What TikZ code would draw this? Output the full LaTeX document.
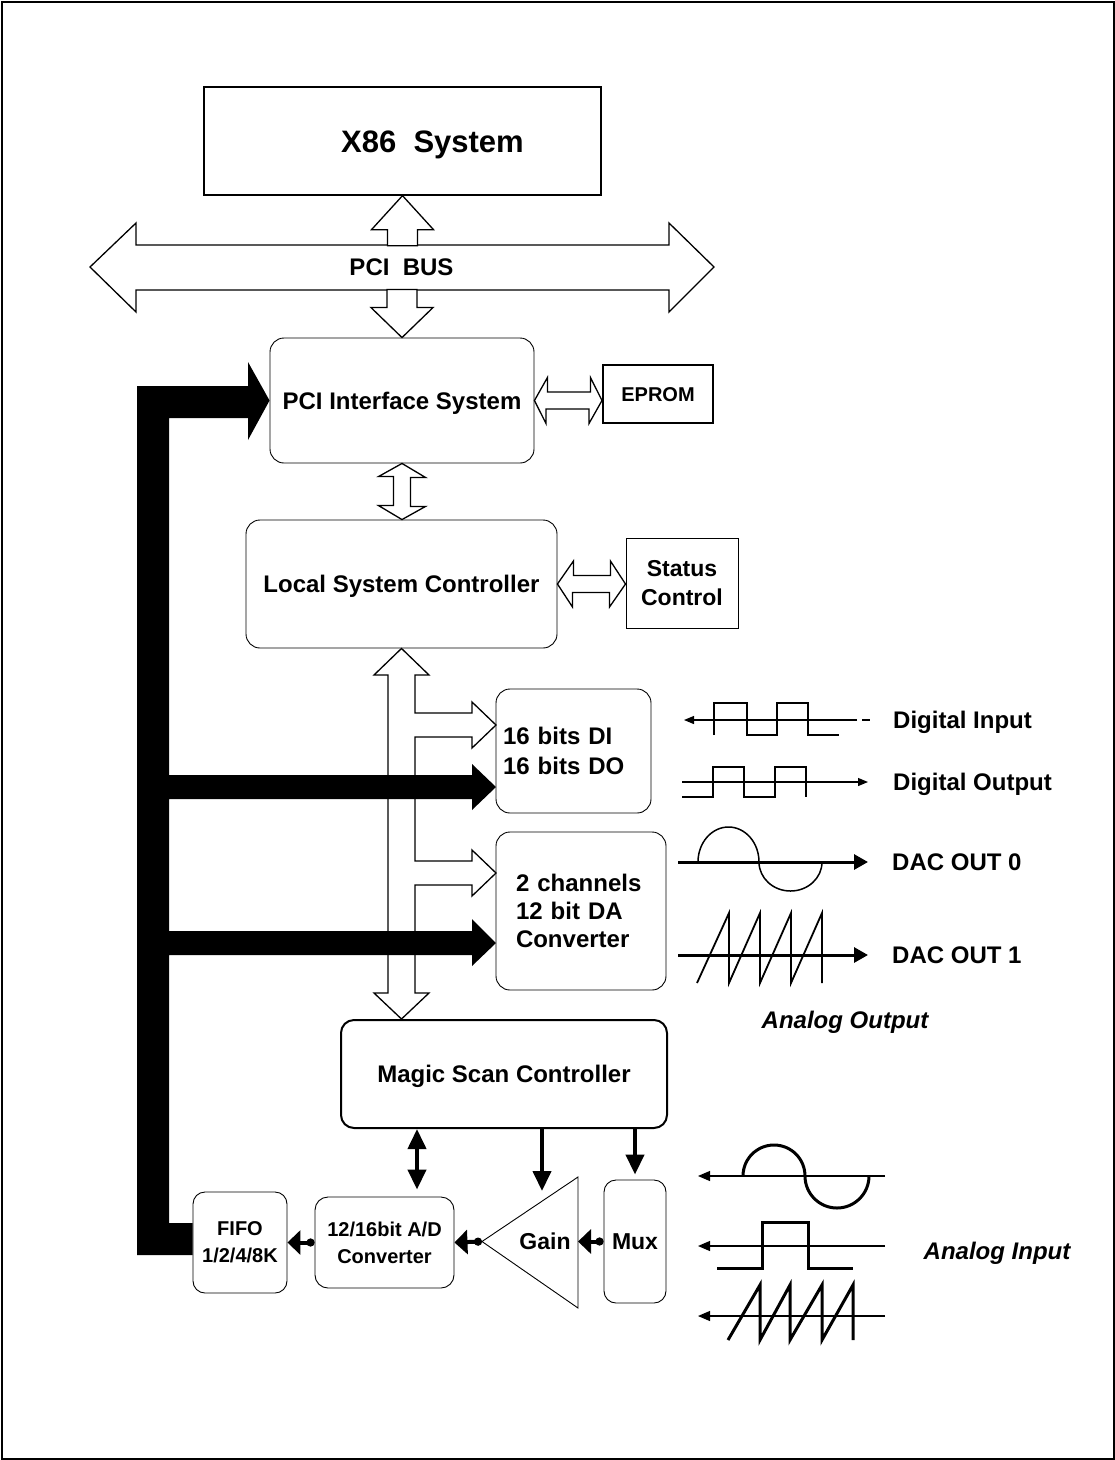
\documentclass[tikz,border=0pt]{standalone}
\usepackage{fontspec}
\setmainfont{Liberation Sans}
\usepackage{tikz}
\usetikzlibrary{positioning,arrows.meta}
\tikzset{
  >={Triangle[length=10pt,width=8pt]},
  sqbox/.style={draw, line width=1pt, inner sep=0pt},
  rndbox/.style={draw, line width=0.9pt, rounded corners=14pt, inner sep=0pt},
  oneline/.style={text height=#1, text depth=0pt},
  oneline/.default=17pt,
  lbl/.style={font=\bfseries\fontsize{24}{29}\selectfont},
  smalllbl/.style={font=\bfseries\fontsize{20}{27}\selectfont},
  itlbl/.style={font=\bfseries\itshape\fontsize{24}{29}\selectfont, oneline},
  outlbl/.style={lbl, oneline, anchor=west, inner sep=0pt},
  hollow/.style={draw, fill=white, line width=1.3pt},
  heavy/.style={fill=black},
  sig/.style={line width=4pt, {Circle[length=8pt]}-{Triangle[length=13pt,width=24pt]}},
  ctl/.style={line width=4pt, -{Triangle[length=20pt,width=18pt]}},
  axis/.style={line width=1.2pt},
  thickaxis/.style={line width=3pt, -{Triangle[length=14pt,width=15pt]}},
  wave/.style={line width=1.5pt},
  boldwave/.style={line width=3pt},
}

\begin{document}
\begin{tikzpicture}[x=1pt, y=-1pt]
  \useasboundingbox (0,0) rectangle (1115,1460);
  \draw[line width=2pt] (1.5,1.5) rectangle (1113.5,1458.5);

  \node[sqbox, line width=1.3pt, minimum width=397pt, minimum height=108pt,
    label={[name=x86txt, font=\bfseries\fontsize{31}{36}\selectfont, oneline=22pt, xshift=30pt]center:X86\ \ System}]
    (x86) at (402.5,141) {};
  \draw[hollow] (90,267) -- (136,223) -- (136,245) -- (669,245) -- (669,223) -- (714,267)
    -- (669,312) -- (669,290) -- (136,290) -- (136,312) -- cycle;
  \node[lbl, oneline] (bus) at (401.5,267) {PCI\ \ BUS};

  \node[rndbox, lbl, oneline, minimum width=264pt, minimum height=125pt] (pci) at (402,400.5) {PCI Interface System};
  \node[sqbox, line width=2pt, smalllbl, oneline=14.3pt, minimum width=110pt, minimum height=58pt] (eprom) at (658,394) {EPROM};
  \node[rndbox, lbl, oneline, minimum width=311pt, minimum height=128pt] (lsc) at (401.5,584) {Local System Controller};
  \node[sqbox, font=\bfseries\fontsize{23}{29}\selectfont, align=center, minimum width=112pt, minimum height=90pt] (stat) at (682,583) {Status\\Control};
  \node[rndbox, font=\bfseries\fontsize{24}{30}\selectfont, align=left, text width=141pt, inner xsep=7pt, minimum height=124pt] (dio) at (573.5,751) {16 bits DI\\16 bits DO};
  \node[rndbox, font=\bfseries\fontsize{24}{28}\selectfont, align=left, text width=130pt, inner xsep=20pt, minimum height=158pt] (dac) at (581,911) {2 channels\\12 bit DA\\Converter};
  \node[rndbox, line width=2pt, rounded corners=13pt, lbl, oneline, minimum width=326pt, minimum height=108pt] (msc) at (504,1074) {Magic Scan Controller};
  \node[rndbox, rounded corners=12pt, smalllbl, align=center, minimum width=94pt, minimum height=101pt] (fifo) at (240,1242.5) {FIFO\\1/2/4/8K};
  \node[rndbox, rounded corners=13pt, smalllbl, align=center, minimum width=139pt, minimum height=91pt] (ad) at (384.5,1242.5) {12/16bit A/D\\Converter};
  \node[rndbox, rounded corners=12pt, font=\bfseries\fontsize{23}{28}\selectfont, oneline=16.5pt, minimum width=62pt, minimum height=123pt] (mux) at (635,1241.5) {Mux};
  \coordinate (gapex) at (482,1241.5);
  \coordinate (gbase) at (578,1241.5);
  \draw[line width=0.9pt] (gapex) -- (578,1177) -- (578,1308) -- cycle;
  \node[font=\bfseries\fontsize{23}{28}\selectfont, oneline=16.5pt] (gain) at (545,1241.5) {Gain};

  \draw[hollow] (x86.south) -- ++(31,34) -- ++(-16,0) -- ++(0,16) -- ++(-30,0) -- ++(0,-16) -- ++(-16,0) -- cycle;
  \draw[hollow] (pci.north) -- ++(31,-30) -- ++(-16,0) -- ++(0,-18) -- ++(-30,0) -- ++(0,18) -- ++(-16,0) -- cycle;
  \draw[hollow] (pci.east) -- ++(13,-23) -- ++(0,14.5) -- ++(43,0) -- ++(0,-14.5) -- (eprom.west |- pci.east)
    -- ++(-13,23) -- ++(0,-14.5) -- ++(-43,0) -- ++(0,14.5) -- cycle;
  \draw[hollow] (pci.south) -- ++(23.5,14) -- ++(-15,0) -- ++(0,29) -- ++(15,0) -- (lsc.north -| pci.south)
    -- ++(-23.5,-14) -- ++(15,0) -- ++(0,-29) -- ++(-15,0) -- cycle;
  \draw[hollow] (lsc.east) -- ++(16,-23) -- ++(0,14.5) -- ++(37,0) -- ++(0,-14.5) -- (stat.west |- lsc.east)
    -- ++(-16,23) -- ++(0,-14.5) -- ++(-37,0) -- ++(0,14.5) -- cycle;
  \draw[hollow] (lsc.south) -- (429,675) -- (415,675) -- (415,713) -- (472,713) -- (472,702) -- (496,725)
    -- (472,748) -- (472,737) -- (415,737) -- (415,861) -- (472,861) -- (472,850) -- (496,873)
    -- (472,896) -- (472,885) -- (415,885) -- (415,993) -- (429,993) -- (msc.north -| lsc.south)
    -- (374,993) -- (388,993) -- (388,675) -- (374,675) -- cycle;

  \fill[heavy] (137,386) -- (248,386) -- (248,362) -- (pci.west) -- (248,440) -- (248,418) -- (169,418)
    -- (169,775) -- (472,775) -- (472,764) -- (496,787) -- (472,810) -- (472,799) -- (169,799)
    -- (169,931) -- (472,931) -- (472,919) -- (496,943) -- (472,966) -- (472,955) -- (169,955)
    -- (169,1223) -- (fifo.west |- 0,1223) -- (fifo.west |- 0,1255) -- (137,1255) -- cycle;

  \draw[sig] (mux.west) -- (gbase);
  \draw[sig] (gapex) -- (ad.east);
  \draw[sig] (ad.west) -- (fifo.east);
  \coordinate (adtop) at ([xshift=32.5pt, yshift=7pt]ad.north);
  \coordinate (gtop) at (542,1191);
  \draw[ctl, {Triangle[length=20pt,width=18pt]}-{Triangle[length=20pt,width=18pt]}] (msc.south -| adtop) -- (adtop);
  \draw[ctl] (msc.south -| gtop) -- (gtop);
  \draw[ctl] (msc.south -| mux.north) -- ([yshift=5pt]mux.north);

  \node[outlbl] (dinlbl) at (893,720) {Digital Input};
  \node[outlbl] (doutlbl) at (893,782) {Digital Output};
  \node[outlbl] (dac0lbl) at (892,862) {DAC OUT 0};
  \node[outlbl] (dac1lbl) at (892,955) {DAC OUT 1};
  \node[itlbl] (aoutlbl) at (845,1020) {Analog Output};
  \node[itlbl] (ainlbl) at (997,1251) {Analog Input};

  \draw[axis, ->] (857,720) -- (684,720);
  \draw[axis] (862,720) -- (870,720);
  \draw[wave] (714,735) -- (714,703) -- (747,703) -- (747,735) -- (777,735) -- (777,703) -- (808,703) -- (808,735) -- (839,735);
  \draw[axis, ->] (682,782) -- (868,782);
  \draw[wave] (682,797) -- (713,797) -- (713,767) -- (744,767) -- (744,797) -- (775,797) -- (775,767) -- (806,767) -- (806,797);

  \draw[thickaxis] (678,862) -- (868,862);
  \draw[wave] (698,862) arc[start angle=180, end angle=0, x radius=30.5pt, y radius=35pt]
    arc[start angle=180, end angle=360, x radius=31.5pt, y radius=29pt];
  \draw[thickaxis] (678,955) -- (868,955);
  \draw[wave, line width=1.8pt] (697,983) -- (729,913) -- (729,983) -- (760,913) -- (760,983) -- (791,913)
    -- (791,983) -- (822,913) -- (822,983);

  \draw[axis, -{Triangle[length=12pt,width=10pt]}] (885,1176) -- (698,1176);
  \draw[boldwave] (743,1176) arc[start angle=180, end angle=0, radius=31pt] arc[start angle=180, end angle=360, radius=32pt];
  \draw[axis, -{Triangle[length=12pt,width=10pt]}] (885,1246) -- (698,1246);
  \draw[boldwave] (717,1268) -- (762,1268) -- (762,1222) -- (808,1222) -- (808,1268) -- (853,1268);
  \draw[axis, -{Triangle[length=12pt,width=10pt]}] (885,1316) -- (698,1316);
  \draw[boldwave] (728,1340) -- (760,1285) -- (760,1340) -- (790,1285) -- (790,1340) -- (822,1285) -- (822,1340)
    -- (853,1285) -- (853,1340);
\end{tikzpicture}
\end{document}
